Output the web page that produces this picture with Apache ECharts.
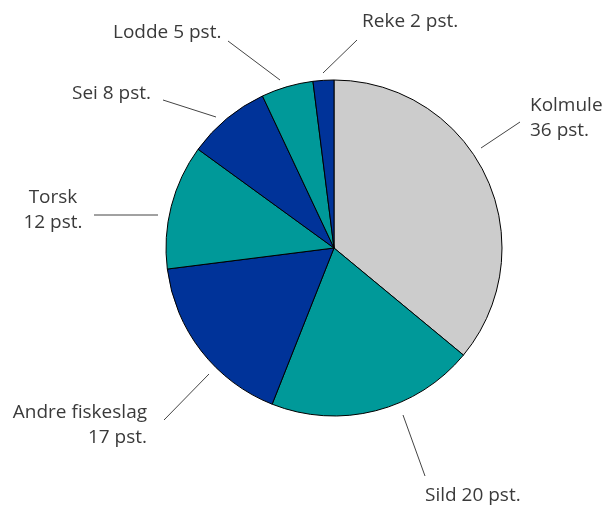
<!DOCTYPE html>
<html>
<head>
<meta charset="utf-8">
<script src="https://cdn.jsdelivr.net/npm/echarts@6/dist/echarts.min.js"></script>
<style>
    html,body{margin:0;padding:0;background:#ffffff;}
    #chart{width:606px;height:507px;}
</style>
</head>
<body>
<div id="chart"></div>
<script>
// data
var names = ['Kolmule', 'Sild', 'Andre fiskeslag', 'Torsk', 'Sei', 'Lodde', 'Reke']
var values = [36, 20, 17, 12, 8, 5, 2]
var labelText = ['Kolmule\n36 pst.', 'Sild 20 pst.', 'Andre fiskeslag\n17 pst.', 'Torsk\n12 pst.', 'Sei 8 pst.', 'Lodde 5 pst.', 'Reke 2 pst.']
var colors = ['#cccccc', '#009999', '#003399', '#009999', '#003399', '#009999', '#003399']

// label place + leader line (x, y, align, line start, line end)
var labelPos = [
    {x: 530, y: 118, align: 'left',   line: [[481, 148], [520, 122]]},
    {x: 425, y: 496, align: 'left',   line: [[403, 415], [425, 476]]},
    {x: 147, y: 425, align: 'right',  line: [[209, 374], [164, 420]]},
    {x: 53,  y: 210, align: 'center', line: [[158, 215], [94, 215]]},
    {x: 72,  y: 94,  align: 'left',   line: [[216, 117], [163, 100]]},
    {x: 113, y: 33,  align: 'left',   line: [[280, 80], [228, 41]]},
    {x: 362, y: 22,  align: 'left',   line: [[323, 73], [357, 40]]}
]

var chart = echarts.init(document.getElementById('chart'))
var seriesData = []
for (var i = 0; i < names.length; i++) {
    seriesData.push({
        name: names[i],
        value: values[i],
        itemStyle: {color: colors[i]},
        label: {formatter: labelText[i], align: labelPos[i].align}
    })
}

var option = {
    animation: false,
    series: [
        {
            type: 'pie',
            center: [334, 248],
            radius: 168,
            startAngle: 90,
            clockwise: true,
            data: seriesData,
            itemStyle: {
                borderColor: '#000000',
                borderWidth: 1
            },
            label: {
                show: true,
                position: 'outside',
                overflow: 'none',
                color: '#3a3a3a',
                fontFamily: 'Open Sans',
                fontSize: 19,
                lineHeight: 25
            },
            labelLine: {
                show: true,
                lineStyle: {color: '#444444', width: 1}
            },
            labelLayout: function (params) {
                var p = labelPos[params.dataIndex]
                var a = p.line[0], b = p.line[1]
                return {
                    x: p.x,
                    y: p.y,
                    width: 200,
                    align: p.align,
                    verticalAlign: 'middle',
                    labelLinePoints: [a, b, b]
                }
            }
        }
    ]
}
chart.setOption(option)
</script>
</body>
</html>
